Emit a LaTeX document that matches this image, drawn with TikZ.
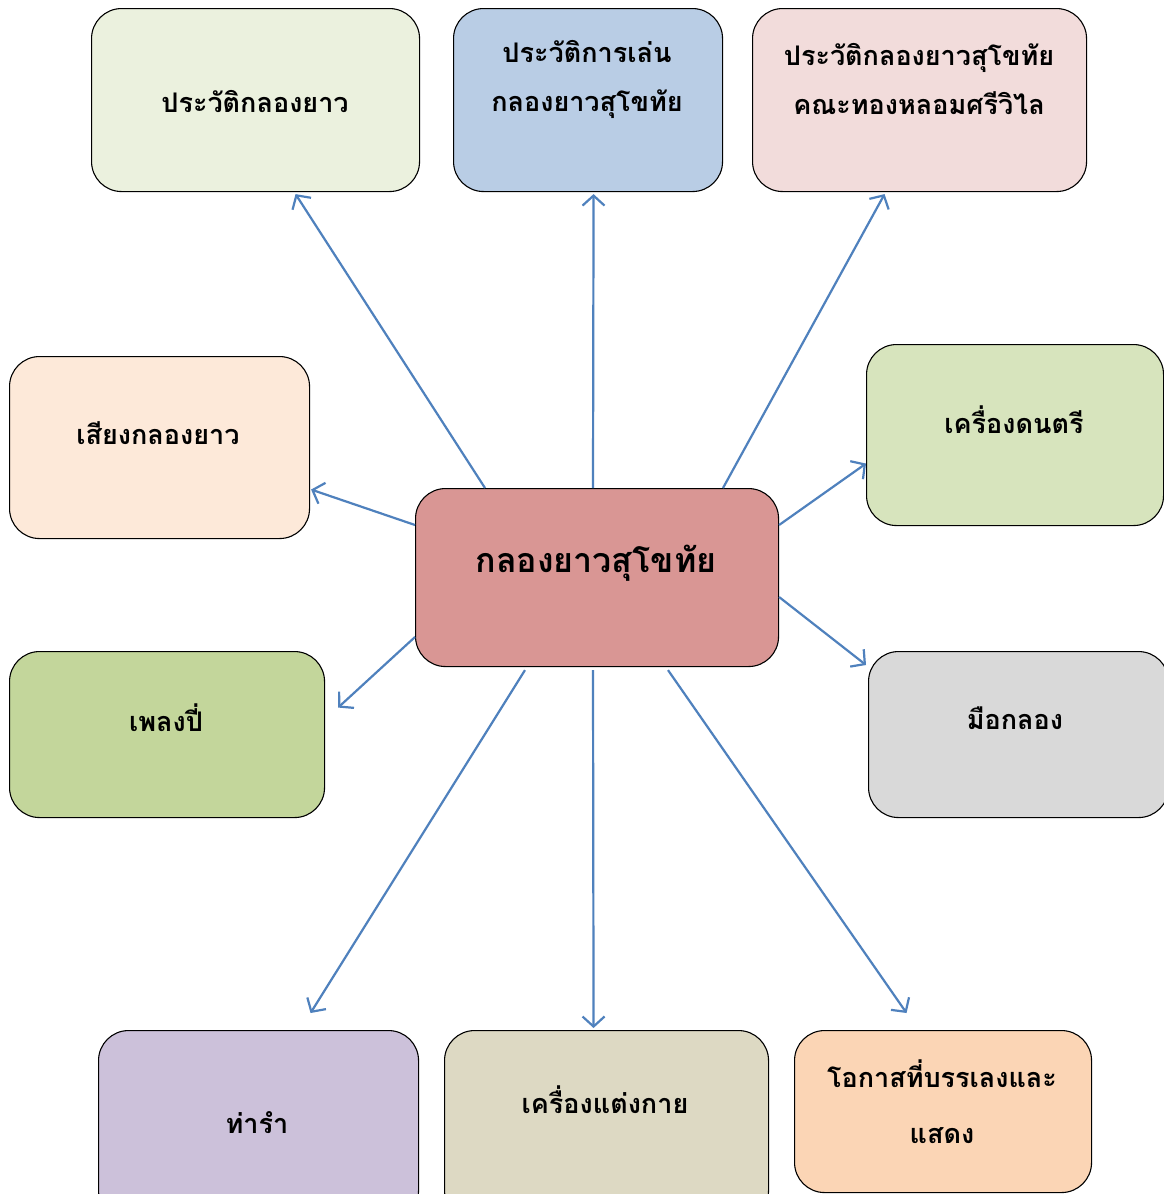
\documentclass[tikz,border=0pt]{standalone}
\usepackage{fontspec}
\newfontfamily\thaifont[Script=Thai]{Loma}
\usetikzlibrary{arrows.meta,calc}
\definecolor{ln}{HTML}{4F81BD}
\definecolor{cA}{HTML}{EBF1DE}
\definecolor{cB}{HTML}{B9CDE5}
\definecolor{cC}{HTML}{F2DCDB}
\definecolor{cD}{HTML}{FDE9D9}
\definecolor{cE}{HTML}{D7E4BD}
\definecolor{cF}{HTML}{D99694}
\definecolor{cG}{HTML}{C3D69B}
\definecolor{cH}{HTML}{D9D9D9}
\definecolor{cI}{HTML}{CCC1DA}
\definecolor{cJ}{HTML}{DDD9C3}
\definecolor{cK}{HTML}{FBD5B5}
\tikzset{
  box/.style={draw=black, line width=1.1pt, rounded corners=30pt, anchor=north west, inner sep=0pt},
  lbl/.style={font=\thaifont\bfseries\fontsize{27}{49}\selectfont, align=center, inner sep=0pt},
  conn/.style={draw=ln, line width=2.2pt, -{Straight Barb[length=10pt,width=22pt,line width=2.2pt]}},
}
\begin{document}
\begin{tikzpicture}[x=1pt,y=-1pt]
\useasboundingbox (0,0) rectangle (1164,1194);
\fill[white] (0,0) rectangle (1164,1194);
% boxes
\node[box, fill=cA, minimum width=328pt, minimum height=183pt] (b1) at (91,8) {};
\node[lbl] (t1) at (255,102) {ประวัติกลองยาว};
\node[box, fill=cB, minimum width=269pt, minimum height=183pt] (b2) at (453,8) {};
\node[lbl] (t2) at (587,79) {ประวัติการเล่น\\กลองยาวสุโขทัย};
\node[box, fill=cC, minimum width=334pt, minimum height=183pt] (b3) at (752,8) {};
\node[lbl] (t3) at (919,79) {ประวัติกลองยาวสุโขทัย\\คณะทองหลอมศรีวิไล};
\node[box, fill=cD, minimum width=300pt, minimum height=182pt] (b4) at (9,356) {};
\node[lbl] (t4) at (158,433) {เสียงกลองยาว};
\node[box, fill=cE, minimum width=297pt, minimum height=181pt] (b5) at (866,344) {};
\node[lbl] (t5) at (1014,420) {เครื่องดนตรี};
\node[box, fill=cF, minimum width=363pt, minimum height=178pt] (c) at (415,488) {};
\node[lbl, font=\thaifont\bfseries\fontsize{34}{49}\selectfont] (tc) at (596,563) {กลองยาวสุโขทัย};
\node[box, fill=cG, minimum width=315pt, minimum height=166pt] (b7) at (9,651) {};
\node[lbl] (t7) at (166,718) {เพลงปี่};
\node[box, fill=cH, minimum width=300pt, minimum height=166pt] (b8) at (868,651) {};
\node[lbl] (t8) at (1015,718) {มือกลอง};
\node[box, fill=cI, minimum width=320pt, minimum height=190pt] (b9) at (98,1030) {};
\node[lbl] (t9) at (257,1123) {ท่ารำ};
\node[box, fill=cJ, minimum width=324pt, minimum height=190pt] (b10) at (444,1030) {};
\node[lbl] (t10) at (605,1100) {เครื่องแต่งกาย};
\node[box, fill=cK, minimum width=297pt, minimum height=162pt] (b11) at (794,1030) {};
\node[lbl, font=\thaifont\bfseries\fontsize{27}{56}\selectfont] (t11) at (942,1102) {โอกาสที่บรรเลงและ\\แสดง};
% connectors
\draw[conn] ([xshift=70pt]c.north west) -- ([xshift=40pt,yshift=-2pt]b1.south);
\draw[conn] ([xshift=178pt]c.north west) -- ([xshift=5.5pt,yshift=-2pt]b2.south);
\draw[conn] ([xshift=308pt]c.north west) -- ([xshift=-35pt,yshift=-2pt]b3.south);
\draw[conn] ([yshift=-37pt]c.north west) -- ([xshift=1pt,yshift=-42pt]b4.east);
\draw[conn] ([yshift=-37pt]c.north east) -- ([yshift=-28.5pt]b5.west);
\draw[conn] ([yshift=-149pt]c.north west) -- ([xshift=13pt,yshift=27pt]b7.east);
\draw[conn] ([yshift=-109pt]c.north east) -- ([xshift=-2pt,yshift=-14pt]b8.north west);
\draw[conn] ([xshift=110pt,yshift=-3pt]c.south west) -- ([xshift=52pt,yshift=17pt]b9.north);
\draw[conn] ([xshift=178pt,yshift=-3pt]c.south west) -- ([xshift=-13pt,yshift=2pt]b10.north);
\draw[conn] ([xshift=253pt,yshift=-3pt]c.south west) -- ([xshift=-36.5pt,yshift=17pt]b11.north);
\end{tikzpicture}
\end{document}
